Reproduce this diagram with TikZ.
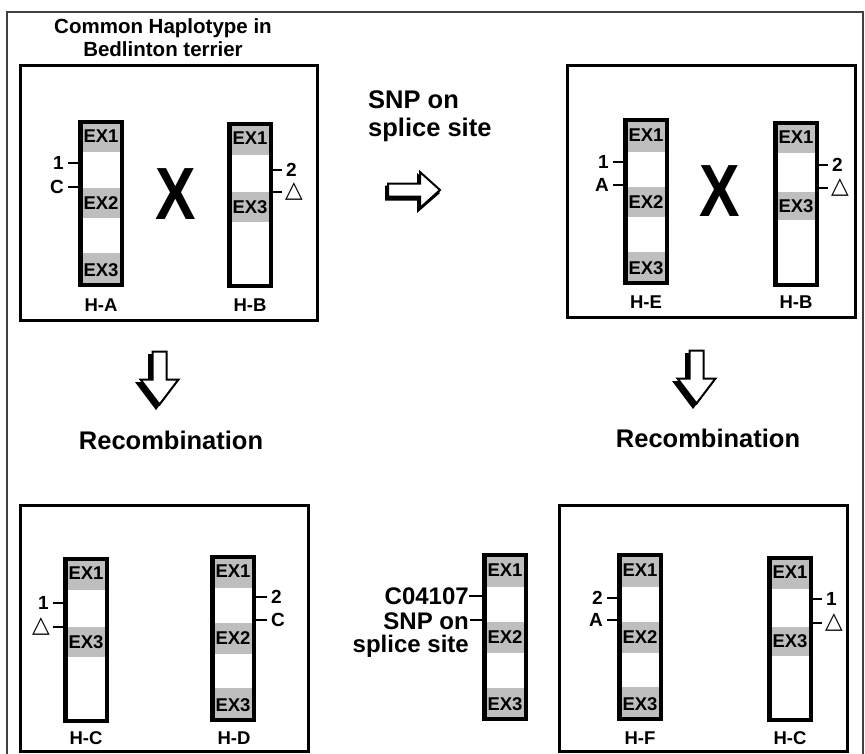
\documentclass[tikz,border=0pt]{standalone}
\usepackage{fontspec}
\setmainfont{Liberation Sans}
\newfontfamily\symfont{DejaVu Sans}
\usetikzlibrary{calc}
\definecolor{bandgray}{HTML}{BEBEBE}
\newcommand\fs[1]{\fontsize{#1}{#1}\selectfont\bfseries}
% chromosome: name, x left (outer), y top, y bottom, bands ya/yb/label
\newcommand\chromo[5]{%
  \foreach \ya/\yb/\lab in {#5}{%
    \fill[bandgray] (#2,\ya) rectangle (#2+46,\yb);
    \node[exl] (#1-\lab) at (#2+23,{(\ya+\yb)/2}) {\lab};
  }
  \node[chr, minimum height={#4-#3-4}] (#1) at (#2+23,{(#3+#4)/2}) {};
}
% left tick: chrom, x edge, y, style, text
\newcommand\ltk[5]{%
  \node[#4, anchor=east] (#1-t#3) at (#2-10,#3) {#5};
  \draw[tick] (#1-t#3.east) -- (#1.west |- #1-t#3.east);
}
% right tick
\newcommand\rtk[5]{%
  \node[#4, anchor=west] (#1-t#3) at (#2+9,#3) {#5};
  \draw[tick] (#1-t#3.west) -- (#1.east |- #1-t#3.west);
}
\begin{document}
\begin{tikzpicture}[x=1pt,y=-1pt,
  panel/.style={draw=black, line width=3pt},
  chr/.style={draw=black, line width=4.5pt, inner sep=0pt, minimum width=41.5pt},
  exl/.style={font=\fs{18.5}, inner sep=0pt},
  hl/.style={font=\fs{18.5}, inner sep=0pt},
  tl/.style={font=\fs{19}, inner sep=4pt},
  trl/.style={font=\symfont\fontsize{23}{23}\selectfont, inner sep=3pt},
  tick/.style={line width=2.2pt},
  bigx/.style={font=\fs{74}, xscale=0.82, inner sep=0pt},
  heading/.style={font=\fontsize{25.5}{28}\selectfont\bfseries, inner sep=0pt},
  darr/.pic={
    \fill[black] (-8,0) -- (8,0) -- (8,28) -- (21,28) -- (0,56) -- (-21,28) -- (-8,28) -- cycle;
    \filldraw[fill=white, draw=black, line width=2pt, shift={(3.5,-2.5)}]
      (-7,0) -- (7,0) -- (7,28) -- (19,28) -- (0,53) -- (-19,28) -- (-7,28) -- cycle;
  },
  rarr/.pic={
    \fill[black] (0,-7.5) -- (32,-7.5) -- (32,-20) -- (55,0) -- (32,20) -- (32,7.5) -- (0,7.5) -- cycle;
    \filldraw[fill=white, draw=black, line width=2pt, shift={(3,-3)}]
      (0,-6.5) -- (32,-6.5) -- (32,-18) -- (52,0) -- (32,18) -- (32,6.5) -- (0,6.5) -- cycle;
  }
]
\useasboundingbox (0,0) rectangle (865,753);
\fill[white] (0,0) rectangle (865,753);
% outer frame
\draw[line width=1.5pt, black!75] (7,780) -- (7,12) -- (863,12) -- (863,780);

% ---------- top left panel ----------
\node[font=\fontsize{20.5}{23}\selectfont\bfseries, align=center, inner sep=0pt] (title) at (163,38)
  {Common Haplotype in\\Bedlinton terrier};
\draw[panel] (20,65) rectangle (317,320);
\chromo{ha}{78}{120}{287}{120/152/EX1, 188/218/EX2, 253/287/EX3}
\ltk{ha}{78}{163}{tl}{1}
\ltk{ha}{78}{187}{tl}{C}
\node[hl] (ha-name) at (101,305) {H-A};
\node[bigx] (x1) at (176,194) {X};
\chromo{hb}{227}{122}{288}{122/155/EX1, 192/222/EX3}
\rtk{hb}{273}{170}{tl}{2}
\rtk{hb}{273}{192}{trl}{△}
\node[hl] (hb-name) at (250,305) {H-B};

% ---------- SNP arrow ----------
\node[heading, align=left, anchor=west] (snp) at (368,116) {SNP on\\splice site};
\pic at (385,193) {rarr};

% ---------- top right panel ----------
\draw[panel] (567,65) rectangle (855,317);
\chromo{he}{623}{118}{285}{118/152/EX1, 187/217/EX2, 252/285/EX3}
\ltk{he}{623}{162}{tl}{1}
\ltk{he}{623}{185}{tl}{A}
\node[hl] (he-name) at (646,302) {H-E};
\node[bigx] (x2) at (720,191) {X};
\chromo{hb2}{773}{121}{287}{121/153/EX1, 192/220/EX3}
\rtk{hb2}{819}{165}{tl}{2}
\rtk{hb2}{819}{188}{trl}{△}
\node[hl] (hb2-name) at (796,302) {H-B};

% ---------- recombination arrows ----------
\pic at (156,354) {darr};
\pic at (693,353) {darr};
\node[heading] (rec1) at (171,440) {Recombination};
\node[heading] (rec2) at (708,438) {Recombination};

% ---------- bottom left panel ----------
\draw[panel] (20,505) rectangle (308,751);
\chromo{hc}{63}{557}{723}{557/590/EX1, 627/657/EX3}
\ltk{hc}{63}{603}{tl}{1}
\ltk{hc}{63}{627}{trl}{△}
\node[hl] (hc-name) at (86,738) {H-C};
\chromo{hd}{210}{555}{722}{555/588/EX1, 623/654/EX2, 688/722/EX3}
\rtk{hd}{258}{597}{tl}{2}
\rtk{hd}{258}{620}{tl}{C}
\node[hl] (hd-name) at (234,738) {H-D};

% ---------- middle chromosome ----------
\chromo{hm}{482}{553}{721}{553/587/EX1, 622/653/EX2, 688/721/EX3}
\node[font=\fs{24}, inner sep=0pt, anchor=east] (cid) at (469,596) {C04107};
\node[font=\fontsize{24}{23}\selectfont\bfseries, align=right, inner sep=0pt, anchor=east] (msnp) at (469,635) {SNP on\\splice site};
\coordinate (msnp-t) at (470,620);
\draw[tick] (cid.east) -- (hm.west |- cid.east);
\draw[tick] (msnp-t) -- (hm.west |- msnp-t);

% ---------- bottom right panel ----------
\draw[panel] (559,505) rectangle (847,751);
\chromo{hf}{617}{553}{721}{553/587/EX1, 622/653/EX2, 687/721/EX3}
\ltk{hf}{617}{598}{tl}{2}
\ltk{hf}{617}{620}{tl}{A}
\node[hl] (hf-name) at (640,738) {H-F};
\chromo{hc2}{767}{556}{722}{556/589/EX1, 627/656/EX3}
\rtk{hc2}{813}{599}{tl}{1}
\rtk{hc2}{813}{623}{trl}{△}
\node[hl] (hc2-name) at (790,738) {H-C};
\end{tikzpicture}
\end{document}
